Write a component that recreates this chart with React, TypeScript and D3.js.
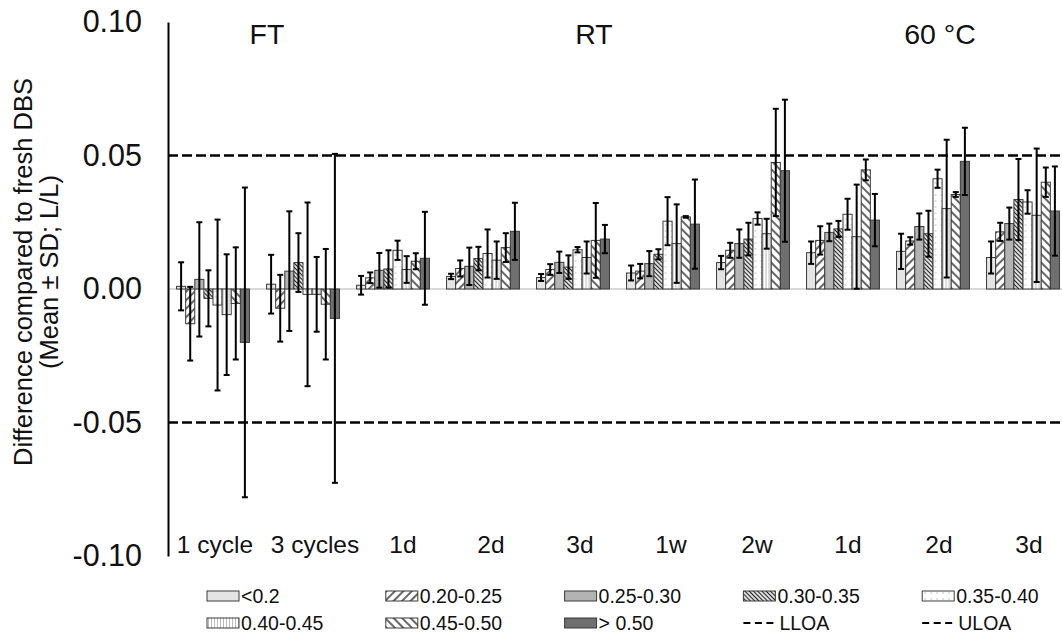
import React, { useEffect, useRef } from 'react';
import * as d3 from 'd3';

// categories and group headers
const groups = ['1 cycle', '3 cycles', '1d', '2d', '3d', '1w', '2w', '1d', '2d', '3d'];
const headerLabels = ['FT', 'RT', '60 °C'];
const headerFrom = [0, 2, 7];
const headerTo = [1, 6, 9];

// series (hematocrit classes)
const series = ['<0.2', '0.20-0.25', '0.25-0.30', '0.30-0.35', '0.35-0.40', '0.40-0.45', '0.45-0.50', '> 0.50'];

// means per series, one value per group
const meanLt020 = [0.001, 0.0018, 0.0014, 0.0047, 0.0043, 0.006, 0.0099, 0.0136, 0.0141, 0.0118];
const mean020 = [-0.013, -0.0072, 0.0042, 0.0077, 0.0073, 0.0067, 0.0145, 0.0182, 0.018, 0.0214];
const mean025 = [0.0036, 0.0067, 0.007, 0.0085, 0.01, 0.0095, 0.017, 0.0212, 0.0234, 0.0245];
const mean030 = [-0.0035, 0.0099, 0.0075, 0.0114, 0.0082, 0.013, 0.0187, 0.0225, 0.0207, 0.0335];
const mean035 = [-0.006, -0.002, 0.0145, 0.0133, 0.0147, 0.0254, 0.0264, 0.028, 0.0413, 0.0326];
const mean040 = [-0.0096, -0.002, 0.0073, 0.0108, 0.0118, 0.017, 0.0207, 0.0196, 0.0301, 0.0276];
const mean045 = [-0.0054, -0.0057, 0.0104, 0.0155, 0.0182, 0.027, 0.0474, 0.0446, 0.0354, 0.04];
const meanGt050 = [-0.02, -0.011, 0.0115, 0.0216, 0.0187, 0.0243, 0.0443, 0.0258, 0.0478, 0.0292];

// standard deviations per series
const sdLt020 = [0.009, 0.011, 0.0035, 0.001, 0.0013, 0.0028, 0.0025, 0.0042, 0.0066, 0.006];
const sd020 = [0.0138, 0.0125, 0.002, 0.003, 0.002, 0.0027, 0.0028, 0.0053, 0.0014, 0.0034];
const sd025 = [0.0214, 0.0224, 0.0065, 0.007, 0.004, 0.0047, 0.0053, 0.0033, 0.0049, 0.006];
const sd030 = [0.0105, 0.011, 0.007, 0.0044, 0.0044, 0.0019, 0.0061, 0.003, 0.0086, 0.0152];
const sd035 = [0.032, 0.0344, 0.0036, 0.009, 0.001, 0.009, 0.0023, 0.0058, 0.0034, 0.0044];
const sd040 = [0.0226, 0.014, 0.005, 0.007, 0.006, 0.0147, 0.0056, 0.0195, 0.0258, 0.025];
const sd045 = [0.021, 0.0207, 0.003, 0.0054, 0.014, 0.0003, 0.0201, 0.0039, 0.0009, 0.0055];
const sdGt050 = [0.058, 0.0616, 0.0174, 0.0107, 0.0053, 0.0167, 0.0266, 0.0098, 0.0126, 0.0167];

// limits of agreement and y ticks
const lloa = -0.05;
const uloa = 0.05;
const yTicks = [-0.1, -0.05, 0, 0.05, 0.1];
const yTickLabels = ['-0.10', '-0.05', '0.00', '0.05', '0.10'];

const means = [meanLt020, mean020, mean025, mean030, mean035, mean040, mean045, meanGt050];
const sds = [sdLt020, sd020, sd025, sd030, sd035, sd040, sd045, sdGt050];
const fills = ['#e4e4e4', 'url(#hFwd)', '#b3b3b3', 'url(#hDense)', 'url(#hDots)', 'url(#hVert)', 'url(#hBack)', '#6f6f6f'];

// text boxes sit a bit off the group centres in the original
const labelShift = [2, 12, 10, 8, 7, 8, 4, 5, 6, 6];
const headerShift = [9, 21, 7];

const FONT = '"Liberation Sans", Arial, sans-serif';
const W = 1062, H = 637;

export default function App() {
  const axisRef = useRef(null);

  const x = d3.scaleBand().domain(groups.map((g, i) => String(i)))
    .range([168, 1068]).paddingInner(0.19).paddingOuter(0.095);
  const xs = d3.scaleBand().domain(series).range([0, x.bandwidth()]);
  const y = d3.scaleLinear().domain([-0.1, 0.1]).range([556, 22]);
  const xc = (i) => x(String(i)) + x.bandwidth() / 2;

  useEffect(() => {
    const g = d3.select(axisRef.current);
    g.call(d3.axisLeft(y).tickValues(yTicks).tickSize(0).tickSizeOuter(0).tickPadding(26)
      .tickFormat((d, i) => yTickLabels[i]));
    g.select('.domain').attr('stroke', '#000').attr('stroke-width', 2);
    g.selectAll('text').attr('font-size', 30.5).attr('font-family', FONT).attr('fill', '#111');
  }, []);

  const legendX = (i) => 207 + (i % 5) * 178.8;
  const legendY = (i) => (i < 5 ? 596 : 623);
  const legendItems = series.map((s, i) => ({ label: s, fill: fills[i], line: false }))
    .concat([{ label: 'LLOA', fill: '', line: true }, { label: 'ULOA', fill: '', line: true }]);

  return (
    <svg width={W} height={H} style={{ position: 'absolute', left: 0, top: 0, background: '#fff' }}>
      <defs>
        <pattern id="hFwd" patternUnits="userSpaceOnUse" width="6" height="6" patternTransform="rotate(45)">
          <rect width="6" height="6" fill="#fff" />
          <line x1="3" y1="0" x2="3" y2="6" stroke="#555" strokeWidth="1.8" />
        </pattern>
        <pattern id="hDense" patternUnits="userSpaceOnUse" width="3" height="3" patternTransform="rotate(-45)">
          <rect width="3" height="3" fill="#fff" />
          <line x1="1.5" y1="0" x2="1.5" y2="3" stroke="#222" strokeWidth="1.3" />
        </pattern>
        <pattern id="hBack" patternUnits="userSpaceOnUse" width="6" height="6" patternTransform="rotate(-45)">
          <rect width="6" height="6" fill="#fff" />
          <line x1="3" y1="0" x2="3" y2="6" stroke="#555" strokeWidth="1.8" />
        </pattern>
        <pattern id="hDots" patternUnits="userSpaceOnUse" width="6" height="6">
          <rect width="6" height="6" fill="#fff" />
          <circle cx="3" cy="3" r="0.7" fill="#aaa" />
        </pattern>
        <pattern id="hVert" patternUnits="userSpaceOnUse" width="3" height="3">
          <rect width="3" height="3" fill="#fff" />
          <line x1="1.5" y1="0" x2="1.5" y2="3" stroke="#aaa" strokeWidth="0.8" />
        </pattern>
      </defs>

      {/* zero line and limits of agreement */}
      <line x1={168} x2={W} y1={y(0)} y2={y(0)} stroke="#d9d9d9" strokeWidth={2} />
      {[lloa, uloa].map((v) => (
        <line key={v} x1={168} x2={W} y1={y(v)} y2={y(v)} stroke="#000" strokeWidth={2.5} strokeDasharray="10,4" />
      ))}

      {/* bars */}
      {groups.map((g, gi) => (
        <g key={'g' + gi} transform={`translate(${x(String(gi))},0)`}>
          {series.map((s, si) => {
            const v = means[si][gi];
            return (
              <rect key={s} x={xs(s)} width={xs.bandwidth()}
                y={Math.min(y(v), y(0))} height={Math.abs(y(v) - y(0))}
                fill={fills[si]} stroke="#3a3a3a" strokeWidth={1} />
            );
          })}
          {series.map((s, si) => {
            const v = means[si][gi], sd = sds[si][gi];
            const cx = xs(s) + xs.bandwidth() / 2;
            return (
              <g key={'e' + s} stroke="#000" strokeWidth={2}>
                <line x1={cx} x2={cx} y1={y(v - sd)} y2={y(v + sd)} />
                <line x1={cx - 3} x2={cx + 3} y1={y(v - sd)} y2={y(v - sd)} />
                <line x1={cx - 3} x2={cx + 3} y1={y(v + sd)} y2={y(v + sd)} />
              </g>
            );
          })}
        </g>
      ))}

      {/* y axis */}
      <g ref={axisRef} transform="translate(168,0)" />

      {/* category labels */}
      {groups.map((g, gi) => (
        <text key={'c' + gi} x={xc(gi) + labelShift[gi]} y={553} textAnchor="middle"
          fontFamily={FONT} fontSize={24.5} fill="#111">{g}</text>
      ))}

      {/* condition headers */}
      {headerLabels.map((h, i) => (
        <text key={h} x={(xc(headerFrom[i]) + xc(headerTo[i])) / 2 + headerShift[i]} y={34}
          textAnchor="middle" dominantBaseline="central"
          fontFamily={FONT} fontSize={28.5} fill="#111">{h}</text>
      ))}

      {/* y title */}
      <g transform="translate(23,272) rotate(-90)" fontFamily={FONT} fontSize={25.5} fill="#111">
        <text textAnchor="middle" dominantBaseline="central">Difference compared to fresh DBS</text>
        <text y={26} textAnchor="middle" dominantBaseline="central">(Mean ± SD; L/L)</text>
      </g>

      {/* legend */}
      {legendItems.map((d, i) => (
        <g key={'l' + i} transform={`translate(${legendX(i)},${legendY(i)})`}>
          {d.line
            ? <line x1={0} x2={32} y1={0} y2={0} stroke="#000" strokeWidth={2} strokeDasharray="7,4.5" />
            : <rect x={0} y={-5} width={32} height={10} fill={d.fill} stroke="#3a3a3a" strokeWidth={1} />}
          <text x={d.line ? 36 : 34} y={0} dominantBaseline="central" fontFamily={FONT} fontSize={19.5} fill="#111">{d.label}</text>
        </g>
      ))}
    </svg>
  );
}
